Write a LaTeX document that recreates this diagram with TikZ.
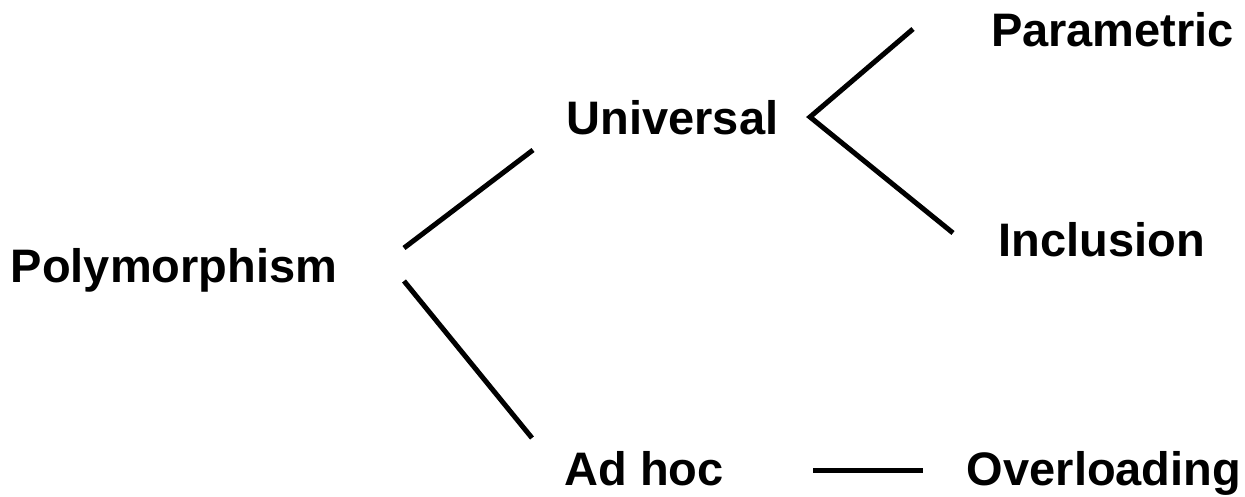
\documentclass[tikz,border=0pt]{standalone}
\usepackage{fontspec}
\setmainfont{Liberation Sans}
\begin{document}
\begin{tikzpicture}[x=1pt,y=1pt,
  lbl/.style={anchor=base, inner sep=0pt, font=\fontsize{47}{56}\selectfont\bfseries},
  conn/.style={line width=5pt, black, line join=miter}]
\useasboundingbox (0,0) rectangle (1245,496);
\node[lbl] (poly) at (174,213) {Polymorphism};
\node[lbl] (univ) at (672.5,361) {Universal};
\node[lbl] (param) at (1112.5,449.5) {Parametric};
\node[lbl] (incl) at (1102,239) {Inclusion};
\node[lbl] (adhoc) at (644,11) {Ad hoc};
\node[lbl] (over) at (1104,11) {Overloading};
\coordinate (p1) at (404,248);
\coordinate (u1) at (533,346);
\coordinate (p2) at (404,215);
\coordinate (a1) at (532,58);
\coordinate (u2) at (913,467);
\coordinate (uv) at (810,379);
\coordinate (u3) at (953,263);
\coordinate (a2) at (813,26);
\coordinate (o1) at (923,26);
\draw[conn] (p1) -- (u1);
\draw[conn] (p2) -- (a1);
\draw[conn] (u2) -- (uv) -- (u3);
\draw[conn] (a2) -- (o1);
\end{tikzpicture}
\end{document}
